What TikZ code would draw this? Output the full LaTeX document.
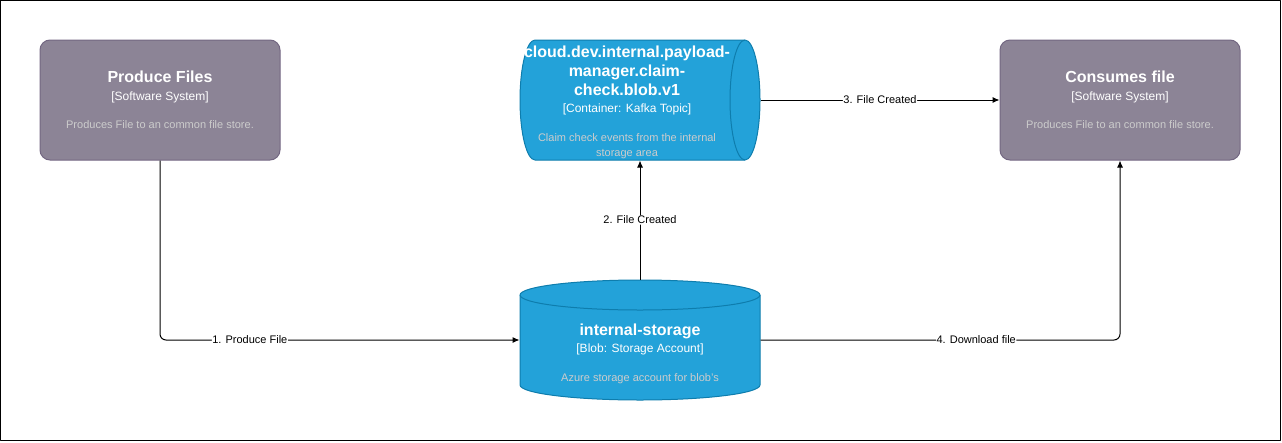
\documentclass[tikz,border=0pt]{standalone}
\usepackage{fontspec}
\setmainfont{Liberation Sans}
\usetikzlibrary{arrows.meta}
\definecolor{sysfill}{HTML}{8C8496}
\definecolor{sysline}{HTML}{736782}
\definecolor{contfill}{HTML}{23A2D9}
\definecolor{contline}{HTML}{0E7DAD}
\definecolor{desctext}{HTML}{CCCCCC}
\newcommand{\ttl}[1]{{\fontsize{16}{19}\selectfont\bfseries #1}}
\newcommand{\kind}[1]{{\fontsize{12}{14}\selectfont #1}}
\newcommand{\dsc}[1]{{\fontsize{11}{15}\selectfont\color{desctext}#1}}
\begin{document}
\begin{tikzpicture}[x=1pt,y=-1pt,line join=round,line width=1pt,
	box/.style={rectangle,minimum width=240pt,minimum height=120pt,inner sep=0pt},
	softsys/.style={box,rounded corners=10pt,draw=sysline,fill=sysfill},
	txt/.style={text=white,align=center,font=\fontsize{11}{15}\selectfont},
	cyl/.style={draw=contline,fill=contfill},
	conn/.style={-{Latex[length=7pt,width=6pt]},rounded corners=6pt},
	lbl/.style={fill=white,inner sep=0.5pt,font=\fontsize{11}{13}\selectfont}]
	\useasboundingbox (0,0) rectangle (1282,442);
	\draw (0.5,0.5) rectangle (1280.5,440.5);
	% cylinders
	\draw[cyl] (535,40) -- (745,40) arc (270:450:15 and 60) -- (535,160) arc (90:270:15 and 60) -- cycle;
	\draw[contline] (745,40) arc (270:90:15 and 60);
	\draw[cyl] (520,295) -- (520,385) arc (180:0:120 and 15) -- (760,295) arc (360:180:120 and 15) -- cycle;
	\draw[contline] (520,295) arc (180:0:120 and 15);
	% nodes
	\node[softsys,txt] (producer) at (160,100) {\ttl{Produce Files}\\[3pt]\kind{[Software System]}\\[13pt]\dsc{Produces File to an common file store.}};
	\node[box,label={[txt,xshift=-13pt,yshift=-2pt]center:{\ttl{cloud.dev.internal.payload-}\\[4pt]\ttl{manager.claim-}\\[4pt]\ttl{check.blob.v1}\\[2pt]\kind{[Container: Kafka Topic]}\\[14pt]\dsc{Claim check events from the internal}\\\dsc{storage area}}}] (topic) at (640,100) {};
	\node[softsys,txt] (consumer) at (1120,100) {\ttl{Consumes file}\\[3pt]\kind{[Software System]}\\[13pt]\dsc{Produces File to an common file store.}};
	\node[box,label={[txt,yshift=-14pt]center:{\ttl{internal-storage}\\[2pt]\kind{[Blob: Storage Account]}\\[14pt]\dsc{Azure storage account for blob's}}}] (storage) at (640,340) {};
	% connectors
	\draw[conn] (producer.south) |- (storage.west) node[lbl,pos=0.625]{1. Produce File};
	\draw[conn] (storage.north) -- (topic.south) node[lbl,midway]{2. File Created};
	\draw[conn] (topic.east) -- (consumer.west) node[lbl,midway]{3. File Created};
	\draw[conn] (storage.east) -| (consumer.south) node[lbl,pos=0.3]{4. Download file};
\end{tikzpicture}
\end{document}
